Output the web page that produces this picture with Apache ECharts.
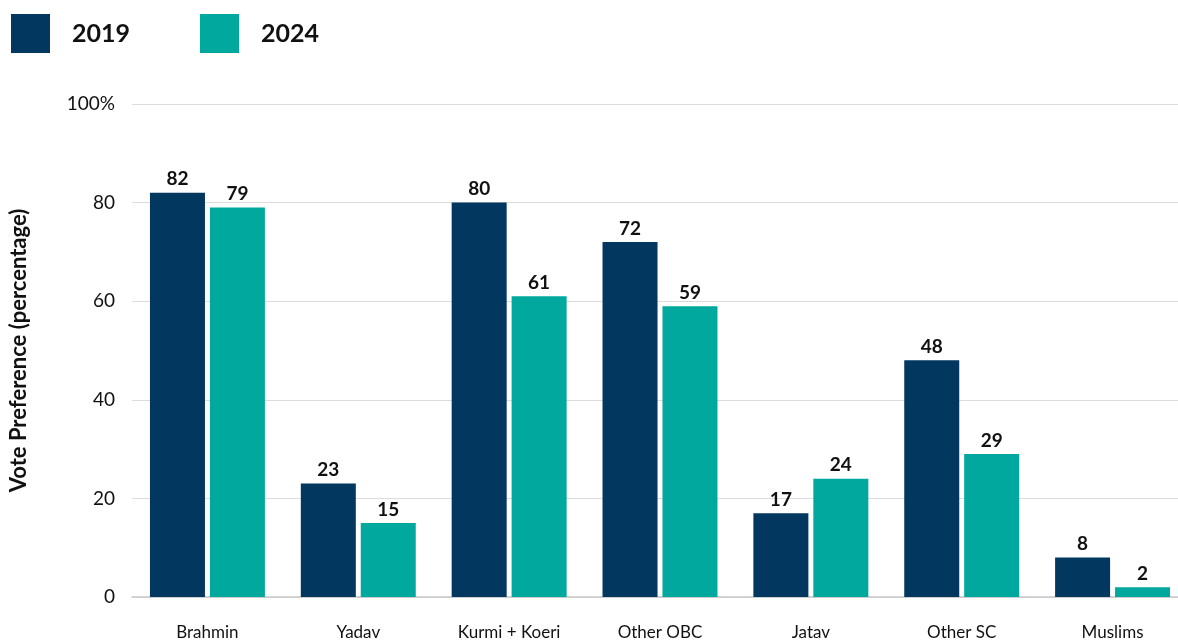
<!DOCTYPE html>
<html>
<head>
<meta charset="utf-8">
<script src="https://cdn.jsdelivr.net/npm/echarts@6/dist/echarts.min.js"></script>
<style>
  html, body { margin: 0; padding: 0; background: #fff; overflow: hidden; }
  /* canvas runs a little past the window so the last group sits near the border */
  #chart { width: 1188px; height: 643px; }
</style>
</head>
<body>
<div id="chart"></div>
<script>
// Vote preference by community, 2019 vs 2024
const categories = ['Brahmin', 'Yadav', 'Kurmi + Koeri', 'Other OBC', 'Jatav', 'Other SC', 'Muslims'];
const values2019 = [82, 23, 80, 72, 17, 48, 8];
const values2024 = [79, 15, 61, 59, 24, 29, 2];
const yTicks = [0, 20, 40, 60, 80, 100];

const FONT = 'Lato, "Noto Sans", sans-serif';
const NAVY = '#02375F';
const TEAL = '#00A89D';

const chart = echarts.init(document.getElementById('chart'));

const labelStyle = {
  show: true,
  position: 'top',
  distance: 4,
  color: '#111',
  fontFamily: FONT,
  fontWeight: 'bold',
  fontSize: 19
};

chart.setOption({
  animation: false,
  textStyle: { fontFamily: FONT },
  legend: {
    left: 11,
    top: 14,
    padding: 0,
    itemWidth: 39,
    itemHeight: 39,
    itemGap: 70,
    icon: 'rect',
    textStyle: {
      color: '#111',
      fontFamily: FONT,
      fontWeight: 'bold',
      fontSize: 25,
      padding: [0, 0, 0, 17]
    },
    data: ['2019', '2024']
  },
  grid: { left: 132, right: 0, top: 104, bottom: 46, containLabel: false },
  xAxis: {
    type: 'category',
    data: categories,
    axisLine: { lineStyle: { color: '#c8c8c8', width: 1.5 } },
    axisTick: { show: false },
    axisLabel: { color: '#111', fontSize: 17, margin: 27, fontFamily: FONT }
  },
  yAxis: {
    type: 'value',
    min: 0,
    max: 100,
    interval: 20,
    name: 'Vote Preference (percentage)',
    nameLocation: 'middle',
    nameGap: 102,
    nameTextStyle: { color: '#111', fontSize: 22, fontWeight: 'bold', fontFamily: FONT },
    axisLine: { show: false },
    axisTick: { show: false },
    splitLine: { lineStyle: { color: '#dcdcdc', width: 1.2 } },
    axisLabel: {
      color: '#111',
      fontSize: 19,
      margin: 17,
      fontFamily: FONT,
      formatter: v => yTicks.includes(v) ? (v === 100 ? '100%' : String(v)) : ''
    }
  },
  series: [
    {
      name: '2019',
      type: 'bar',
      data: values2019,
      barWidth: 55,
      barGap: '9%',
      itemStyle: { color: NAVY },
      label: labelStyle
    },
    {
      name: '2024',
      type: 'bar',
      data: values2024,
      barWidth: 55,
      itemStyle: { color: TEAL },
      label: labelStyle
    }
  ]
});
</script>
</body>
</html>
